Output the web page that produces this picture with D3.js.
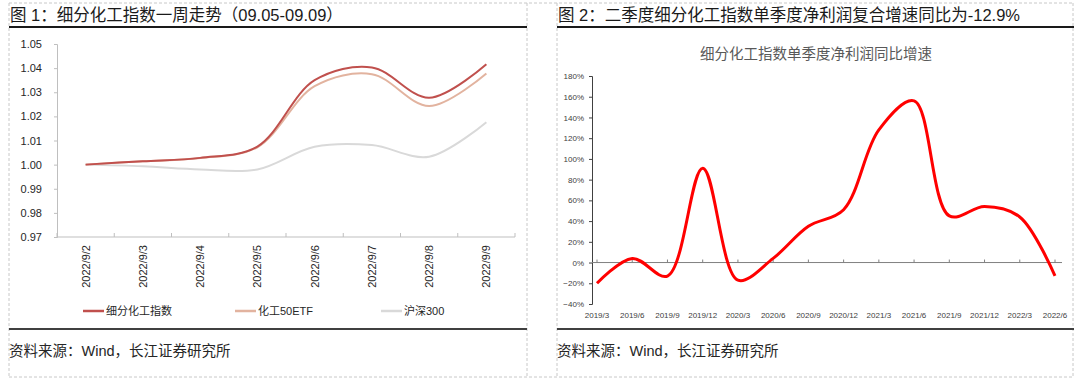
<!DOCTYPE html>
<html>
<head>
<meta charset="utf-8">
<script src="https://cdn.jsdelivr.net/npm/d3@7"></script>
<style>
  html, body { margin: 0; padding: 0; background: #fff; }
  svg { display: block; font-family: "Liberation Sans", Arial, "Noto Sans CJK SC", sans-serif; }
</style>
</head>
<body>
<div id="chart"></div>
<script>
// ---- data: figure 1 (weekly trend) ----
const days = ["2022/9/2", "2022/9/3", "2022/9/4", "2022/9/5", "2022/9/6", "2022/9/7", "2022/9/8", "2022/9/9"];
const chemIndex = [1.000, 1.0014, 1.0028, 1.0075, 1.035, 1.0403, 1.0277, 1.0416];
const chemEtf   = [1.000, 1.0014, 1.0027, 1.0072, 1.0325, 1.0375, 1.0243, 1.0378];
const hs300     = [1.000, 0.9993, 0.998, 0.998, 1.0074, 1.0081, 1.0033, 1.0176];
const yTicks1 = [0.97, 0.98, 0.99, 1.00, 1.01, 1.02, 1.03, 1.04, 1.05];
const seriesNames = ["细分化工指数", "化工50ETF", "沪深300"];

// ---- data: figure 2 (quarterly net profit yoy) ----
const quarters = ["2019/3", "2019/6", "2019/9", "2019/12", "2020/3", "2020/6", "2020/9", "2020/12",
                  "2021/3", "2021/6", "2021/9", "2021/12", "2022/3", "2022/6"];
const profitYoy = [-0.20, 0.04, -0.13, 0.91, -0.17, 0.04, 0.35, 0.51, 1.28, 1.56, 0.45, 0.54, 0.44, -0.129];
const yTicks2 = [-0.4, -0.2, 0, 0.2, 0.4, 0.6, 0.8, 1.0, 1.2, 1.4, 1.6, 1.8];

const W = 1080, H = 384;
const svg = d3.select("#chart").append("svg").attr("width", W).attr("height", H);
svg.append("rect").attr("width", W).attr("height", H).attr("fill", "#fff");

// ---- page frame ----
const dash = svg.append("g").attr("stroke", "#c8c8c8").attr("stroke-dasharray", "3,2").attr("fill", "none");
[[9, 3, 1074, 3], [9, 377, 1074, 377], [9, 3, 9, 377], [527, 3, 527, 377], [557, 3, 557, 377], [1073, 3, 1073, 377]]
  .forEach(d => dash.append("line").attr("x1", d[0]).attr("y1", d[1]).attr("x2", d[2]).attr("y2", d[3]));

[[9, 527], [557, 1074]].forEach(([a, b]) => {
  svg.append("line").attr("x1", a).attr("x2", b).attr("y1", 27).attr("y2", 27).attr("stroke", "#1a1a1a").attr("stroke-width", 2);
  svg.append("line").attr("x1", a).attr("x2", b).attr("y1", 329).attr("y2", 329).attr("stroke", "#404040").attr("stroke-width", 2);
});

svg.append("text").attr("x", 10).attr("y", 21).attr("font-size", 16.5).attr("fill", "#1a1a1a")
  .text("图 1：细分化工指数一周走势（09.05-09.09）");
svg.append("text").attr("x", 558).attr("y", 21).attr("font-size", 16.5).attr("fill", "#1a1a1a")
  .text("图 2：二季度细分化工指数单季度净利润复合增速同比为-12.9%");
[9, 557].forEach(x => svg.append("text").attr("x", x).attr("y", 356).attr("font-size", 14.5).attr("fill", "#262626")
  .text("资料来源：Wind，长江证券研究所"));

// ---- figure 1 ----
const x1 = d3.scaleBand().domain(days).range([57, 515]).padding(0);
const y1 = d3.scaleLinear().domain([0.97, 1.05]).range([237, 44]);
const g1 = svg.append("g");

const yAx1 = g1.append("g").attr("transform", "translate(57,0)")
  .call(d3.axisLeft(y1).tickValues(yTicks1).tickFormat(d3.format(".2f")).tickSize(3).tickPadding(12));
yAx1.select(".domain").attr("stroke", "#bfbfbf");
yAx1.selectAll(".tick line").attr("stroke", "#bfbfbf");
yAx1.selectAll("text").attr("font-size", 11).attr("fill", "#262626").attr("font-family", "Liberation Sans, Arial");

g1.append("line").attr("x1", 57).attr("x2", 515).attr("y1", y1(0.97)).attr("y2", y1(0.97)).attr("stroke", "#bfbfbf");
const bounds = days.map(d => x1(d)).concat([x1.range()[1]]);
g1.selectAll(".xt").data(bounds).join("line")
  .attr("x1", d => d).attr("x2", d => d).attr("y1", y1(0.97)).attr("y2", y1(0.97) - 4).attr("stroke", "#bfbfbf");
g1.selectAll(".xl").data(days).join("text")
  .attr("transform", d => `translate(${x1(d) + x1.bandwidth() / 2 + 4},245) rotate(-90)`)
  .attr("text-anchor", "end").attr("font-size", 11).attr("fill", "#262626").text(d => d);

const colors1 = ["#c0504d", "#e2b39f", "#d9d9d9"];
const line1 = d3.line().x((d, i) => x1(days[i]) + x1.bandwidth() / 2).y(d => y1(d)).curve(d3.curveCatmullRom.alpha(0.5));
[hs300, chemEtf, chemIndex].forEach((s, k) => {
  g1.append("path").datum(s).attr("fill", "none").attr("stroke", colors1[2 - k]).attr("stroke-width", 2).attr("d", line1);
});

const legendX = [83, 235, 381];
seriesNames.forEach((n, i) => {
  g1.append("line").attr("x1", legendX[i]).attr("x2", legendX[i] + 21).attr("y1", 311).attr("y2", 311)
    .attr("stroke", colors1[i]).attr("stroke-width", 2.5);
  g1.append("text").attr("x", legendX[i] + 23).attr("y", 315).attr("font-size", 11).attr("fill", "#262626").text(n);
});

// ---- figure 2 ----
const x2 = d3.scalePoint().domain(quarters).range([597, 1055]);
const y2 = d3.scaleLinear().domain([-0.4, 1.8]).range([304, 76]);
const g2 = svg.append("g");

g2.append("text").attr("x", 816).attr("y", 59).attr("text-anchor", "middle").attr("font-size", 14.5).attr("fill", "#595959")
  .text("细分化工指数单季度净利润同比增速");

const yAx2 = g2.append("g").attr("transform", "translate(592,0)")
  .call(d3.axisLeft(y2).tickValues(yTicks2).tickFormat(d3.format(".0%")).tickSize(3).tickPadding(5));
yAx2.select(".domain").attr("stroke", "#404040");
yAx2.selectAll(".tick line").attr("stroke", "#404040");
yAx2.selectAll("text").attr("font-size", 8).attr("fill", "#404040");

g2.append("line").attr("x1", 592).attr("x2", 1062).attr("y1", y2(0)).attr("y2", y2(0)).attr("stroke", "#808080");
g2.selectAll(".qt").data(quarters).join("line")
  .attr("x1", d => x2(d)).attr("x2", d => x2(d)).attr("y1", y2(0)).attr("y2", y2(0) - 3).attr("stroke", "#808080");
g2.selectAll(".ql").data(quarters).join("text")
  .attr("x", d => x2(d)).attr("y", 318).attr("text-anchor", "middle").attr("font-size", 8).attr("fill", "#404040").text(d => d);

const line2 = d3.line().x((d, i) => x2(quarters[i])).y(d => y2(d)).curve(d3.curveCatmullRom.alpha(0.5));
g2.append("path").datum(profitYoy).attr("fill", "none").attr("stroke", "#ff0000").attr("stroke-width", 3)
  .attr("stroke-linejoin", "round").attr("d", line2);
</script>
</body>
</html>
